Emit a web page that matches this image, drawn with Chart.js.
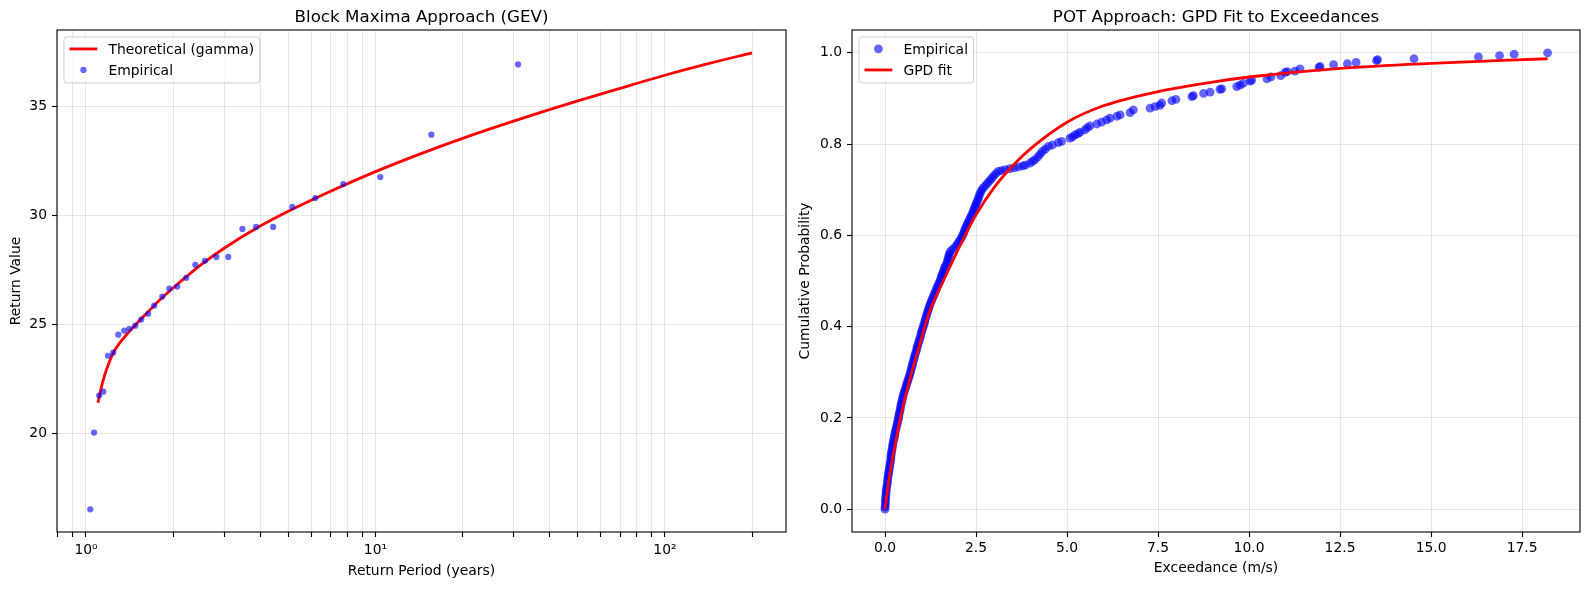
<!DOCTYPE html>
<html>
<head>
<meta charset="utf-8">
<script src="https://cdn.jsdelivr.net/npm/chart.js@4.4.1/dist/chart.umd.min.js"></script>
<style>
  html, body { margin: 0; padding: 0; background: #fff; }
  #wrap { position: relative; width: 1589px; height: 590px; }
  canvas { position: absolute; top: 0; }
</style>
</head>
<body>
<div id="wrap">
  <canvas id="left" width="795" height="590" style="left:0"></canvas>
  <canvas id="right" width="794" height="590" style="left:795px"></canvas>
</div>
<script>
/* global Chart */

// left panel: block maxima, return period (years) vs return value
var empPeriod = [1.035, 1.066, 1.11, 1.148, 1.191, 1.242, 1.293, 1.356, 1.411, 1.48,
  1.552, 1.64, 1.72, 1.835, 1.94, 2.066, 2.22, 2.386, 2.577, 2.82,
  3.10, 3.47, 3.87, 4.43, 5.16, 6.2, 7.74, 10.39, 15.6, 31.1]
var empValue = [16.5, 20.03, 21.73, 21.91, 23.56, 23.70, 24.53, 24.71, 24.80, 24.94,
  25.22, 25.49, 25.86, 26.28, 26.64, 26.74, 27.14, 27.74, 27.92, 28.1,
  28.1, 29.39, 29.48, 29.48, 30.4, 30.81, 31.45, 31.77, 33.72, 36.95]
var theoPeriod = [1.1, 1.12, 1.16, 1.2, 1.25, 1.3, 1.4, 1.5, 1.65, 1.8, 2.1, 2.5, 3, 4, 5,
  7, 10, 14, 20, 30, 50, 70, 100, 140, 200]
var theoValue = [21.4, 21.9, 22.67, 23.23, 23.76, 24.1, 24.62, 25.05, 25.62, 26.13, 26.92, 27.75, 28.5, 29.52, 30.2,
  31.12, 32.02, 32.79, 33.55, 34.34, 35.27, 35.85, 36.45, 36.97, 37.48]
var leftXTicks = [0.8, 0.9, 1, 2, 3, 4, 5, 6, 7, 8, 9, 10, 20, 30, 40, 50, 60, 70, 80, 90, 100, 200]
var leftXLabels = { 1: '10⁰', 10: '10¹', 100: '10²' }
var leftYTicks = [20, 25, 30, 35]

// right panel: exceedances vs cumulative probability
var excEmp = [0.00, 0.00, 0.01, 0.01, 0.01, 0.02, 0.02, 0.03, 0.03, 0.04,
  0.05, 0.06, 0.07, 0.07, 0.08, 0.09, 0.10, 0.11, 0.12, 0.13,
  0.14, 0.15, 0.16, 0.16, 0.17, 0.18, 0.19, 0.20, 0.21, 0.22,
  0.23, 0.25, 0.26, 0.27, 0.28, 0.30, 0.31, 0.33, 0.34, 0.36,
  0.37, 0.38, 0.39, 0.41, 0.42, 0.43, 0.44, 0.46, 0.47, 0.49,
  0.50, 0.52, 0.54, 0.56, 0.58, 0.60, 0.62, 0.64, 0.66, 0.68,
  0.70, 0.71, 0.73, 0.75, 0.76, 0.78, 0.80, 0.81, 0.83, 0.85,
  0.87, 0.88, 0.90, 0.92, 0.94, 0.96, 0.98, 0.99, 1.01, 1.03,
  1.05, 1.07, 1.09, 1.10, 1.12, 1.14, 1.16, 1.18, 1.20, 1.22,
  1.24, 1.27, 1.29, 1.32, 1.35, 1.37, 1.40, 1.42, 1.45, 1.48,
  1.51, 1.53, 1.55, 1.57, 1.60, 1.62, 1.64, 1.67, 1.70, 1.72,
  1.74, 1.75, 1.77, 1.80, 1.86, 1.93, 1.98, 2.02, 2.06, 2.10,
  2.13, 2.16, 2.18, 2.20, 2.23, 2.26, 2.29, 2.32, 2.35, 2.38,
  2.41, 2.43, 2.46, 2.48, 2.51, 2.53, 2.56, 2.58, 2.60, 2.63,
  2.66, 2.71, 2.77, 2.82, 2.88, 2.93, 2.98, 3.04, 3.11, 3.20,
  3.30, 3.43, 3.55, 3.66, 3.78, 3.85, 3.98, 4.05, 4.12, 4.20,
  4.26, 4.32, 4.40, 4.49, 4.60, 4.76, 4.85, 5.08, 5.15, 5.22,
  5.30, 5.36, 5.49, 5.56, 5.63, 5.82, 5.95, 6.09, 6.18, 6.37,
  6.46, 6.73, 6.82, 7.28, 7.42, 7.55, 7.60, 7.88, 7.99, 8.43,
  8.47, 8.75, 8.93, 9.20, 9.25, 9.66, 9.75, 9.84, 10.03, 10.07,
  10.49, 10.60, 10.87, 10.99, 11.05, 11.26, 11.40, 11.92, 11.95, 12.32,
  12.70, 12.94, 13.50, 13.53, 14.53, 16.30, 16.88, 17.28, 18.20]
var probEmp = [0.000, 0.005, 0.010, 0.015, 0.020, 0.025, 0.030, 0.035, 0.040, 0.045,
  0.050, 0.055, 0.060, 0.065, 0.070, 0.075, 0.080, 0.085, 0.090, 0.095,
  0.100, 0.105, 0.110, 0.115, 0.120, 0.125, 0.130, 0.135, 0.140, 0.145,
  0.150, 0.155, 0.160, 0.165, 0.170, 0.175, 0.180, 0.185, 0.190, 0.195,
  0.200, 0.205, 0.210, 0.215, 0.220, 0.225, 0.230, 0.235, 0.240, 0.245,
  0.250, 0.255, 0.260, 0.265, 0.270, 0.275, 0.280, 0.285, 0.290, 0.295,
  0.300, 0.305, 0.310, 0.315, 0.320, 0.325, 0.330, 0.335, 0.340, 0.345,
  0.350, 0.355, 0.360, 0.365, 0.370, 0.375, 0.380, 0.385, 0.390, 0.395,
  0.400, 0.405, 0.410, 0.415, 0.420, 0.425, 0.430, 0.435, 0.440, 0.445,
  0.450, 0.455, 0.460, 0.465, 0.470, 0.475, 0.480, 0.485, 0.490, 0.495,
  0.500, 0.505, 0.510, 0.515, 0.520, 0.525, 0.530, 0.535, 0.540, 0.545,
  0.550, 0.555, 0.560, 0.565, 0.570, 0.575, 0.580, 0.585, 0.590, 0.595,
  0.600, 0.605, 0.610, 0.615, 0.620, 0.625, 0.630, 0.635, 0.640, 0.645,
  0.650, 0.655, 0.660, 0.665, 0.670, 0.675, 0.680, 0.685, 0.690, 0.695,
  0.700, 0.705, 0.710, 0.715, 0.720, 0.725, 0.730, 0.735, 0.740, 0.742,
  0.744, 0.746, 0.748, 0.750, 0.752, 0.754, 0.758, 0.762, 0.766, 0.772,
  0.778, 0.784, 0.789, 0.795, 0.798, 0.803, 0.806, 0.813, 0.816, 0.820,
  0.823, 0.826, 0.831, 0.836, 0.840, 0.844, 0.848, 0.853, 0.857, 0.861,
  0.864, 0.869, 0.875, 0.879, 0.882, 0.885, 0.890, 0.895, 0.898, 0.904,
  0.906, 0.911, 0.914, 0.920, 0.921, 0.926, 0.929, 0.933, 0.938, 0.940,
  0.943, 0.947, 0.950, 0.957, 0.959, 0.960, 0.965, 0.968, 0.970, 0.974,
  0.976, 0.979, 0.983, 0.985, 0.987, 0.991, 0.994, 0.997, 1.000]
var excFit = [0, 0.1, 0.25, 0.45, 0.7, 0.95, 1.2, 1.6, 2.2, 2.5, 3.0, 3.5, 4.0, 5.0, 6.0,
  7.5, 9.0, 10.0, 12.5, 15.0, 18.2]
var probFit = [0, 0.06, 0.13, 0.21, 0.29, 0.36, 0.428, 0.5, 0.6, 0.645, 0.705, 0.752, 0.79, 0.848, 0.884,
  0.915, 0.936, 0.947, 0.966, 0.977, 0.987]
var rightXTicks = [0, 2.5, 5, 7.5, 10, 12.5, 15, 17.5]
var rightYTicks = [0, 0.2, 0.4, 0.6, 0.8, 1.0]

var FONT = 'DejaVu Sans'
var GRID = 'rgba(176,176,176,0.3)'
var BLUE = 'rgba(0,0,255,0.6)'
var RED = '#ff0000'

Chart.defaults.font.family = FONT
Chart.defaults.font.size = 13.9
Chart.defaults.color = '#000'
Chart.defaults.animation = false

function pts (xs, ys) {
  return xs.map((x, i) => ({ x: x, y: ys[i] }))
}

function setTicks (list) {
  return (scale) => { scale.ticks = list.map(v => ({ value: v })) }
}

// axes frame, title above the plot area, legend inside the top left corner
var panelDecor = {
  id: 'panelDecor',
  afterDatasetsDraw (chart, args, opts) {
    var ctx = chart.ctx
    var a = chart.chartArea
    ctx.save()
    ctx.strokeStyle = '#000'
    ctx.lineWidth = 1.1
    ctx.strokeRect(a.left, a.top, a.right - a.left, a.bottom - a.top)

    ctx.font = '16.7px ' + FONT
    ctx.fillStyle = '#000'
    ctx.textAlign = 'center'
    ctx.textBaseline = 'alphabetic'
    ctx.fillText(opts.title, (a.left + a.right) / 2, 22)

    var fs = 13.9
    ctx.font = fs + 'px ' + FONT
    var textW = Math.max.apply(null, opts.items.map(it => ctx.measureText(it.label).width))
    var pad = 0.4 * fs
    var handle = 2 * fs
    var gap = 0.8 * fs
    var bx = a.left + 0.5 * fs
    var by = a.top + 0.5 * fs
    var bw = pad * 2 + handle + gap + textW
    var bh = 46
    ctx.beginPath()
    ctx.roundRect(bx, by, bw, bh, 3)
    ctx.fillStyle = 'rgba(255,255,255,0.8)'
    ctx.fill()
    ctx.strokeStyle = '#cccccc'
    ctx.lineWidth = 1
    ctx.stroke()
    opts.items.forEach((it, i) => {
      var cy = by + 12 + i * 21
      var hx = bx + pad
      if (it.kind === 'line') {
        ctx.beginPath()
        ctx.moveTo(hx, cy)
        ctx.lineTo(hx + handle, cy)
        ctx.strokeStyle = RED
        ctx.lineWidth = 2.8
        ctx.stroke()
      } else {
        ctx.beginPath()
        ctx.arc(hx + handle / 2, cy, it.r, 0, Math.PI * 2)
        ctx.fillStyle = BLUE
        ctx.fill()
      }
      ctx.fillStyle = '#000'
      ctx.textAlign = 'left'
      ctx.textBaseline = 'middle'
      ctx.fillText(it.label, hx + handle + gap, cy + 1)
    })
    ctx.restore()
  }
}

function axisCommon (extra) {
  var base = {
    bounds: 'data',
    grid: { color: GRID, lineWidth: 1, tickColor: '#000', tickLength: 5, tickWidth: 1.1 },
    border: { display: false },
    ticks: { autoSkip: false, maxRotation: 0, padding: 5, font: { size: 13.9 } }
  }
  return Object.assign(base, extra)
}

new Chart(document.getElementById('left'), {
  type: 'scatter',
  data: {
    datasets: [{
      type: 'line',
      label: 'Theoretical (gamma)',
      data: pts(theoPeriod, theoValue),
      borderColor: RED,
      borderWidth: 2.8,
      pointRadius: 0,
      fill: false,
      cubicInterpolationMode: 'monotone',
      order: 1
    }, {
      label: 'Empirical',
      data: pts(empPeriod, empValue),
      backgroundColor: BLUE,
      borderWidth: 0,
      pointRadius: 3.1,
      order: 0
    }]
  },
  options: {
    responsive: false,
    animation: false,
    events: [],
    layout: { padding: { left: 0, right: 9, top: 30, bottom: 0 } },
    plugins: {
      legend: { display: false },
      tooltip: { enabled: false },
      panelDecor: {
        title: 'Block Maxima Approach (GEV)',
        items: [{ kind: 'line', label: 'Theoretical (gamma)' }, { kind: 'dot', label: 'Empirical', r: 3.1 }]
      }
    },
    scales: {
      x: axisCommon({
        type: 'logarithmic',
        min: 0.794,
        max: 262,
        afterBuildTicks: setTicks(leftXTicks),
        afterFit: (s) => { s.height = 58 },
        ticks: { autoSkip: false, maxRotation: 0, padding: 5, callback: (v) => leftXLabels[v] || '' },
        title: { display: true, text: 'Return Period (years)', padding: { top: 0, bottom: 10 } }
      }),
      y: axisCommon({
        type: 'linear',
        min: 15.46,
        max: 38.53,
        afterBuildTicks: setTicks(leftYTicks),
        afterFit: (s) => { s.width = 57 },
        title: { display: true, text: 'Return Value', padding: { top: 8, bottom: 0 } }
      })
    }
  },
  plugins: [panelDecor]
})

new Chart(document.getElementById('right'), {
  type: 'scatter',
  data: {
    datasets: [{
      label: 'Empirical',
      data: pts(excEmp, probEmp),
      backgroundColor: BLUE,
      borderWidth: 0,
      pointRadius: 4.4,
      order: 1
    }, {
      type: 'line',
      label: 'GPD fit',
      data: pts(excFit, probFit),
      borderColor: RED,
      borderWidth: 2.8,
      pointRadius: 0,
      fill: false,
      cubicInterpolationMode: 'monotone',
      order: 0
    }]
  },
  options: {
    responsive: false,
    animation: false,
    events: [],
    layout: { padding: { left: 0, right: 9, top: 30, bottom: 0 } },
    plugins: {
      legend: { display: false },
      tooltip: { enabled: false },
      panelDecor: {
        title: 'POT Approach: GPD Fit to Exceedances',
        items: [{ kind: 'dot', label: 'Empirical', r: 4.4 }, { kind: 'line', label: 'GPD fit' }]
      }
    },
    scales: {
      x: axisCommon({
        type: 'linear',
        min: -0.907,
        max: 19.09,
        afterBuildTicks: setTicks(rightXTicks),
        afterFit: (s) => { s.height = 58 },
        ticks: { autoSkip: false, maxRotation: 0, padding: 3, callback: (v) => v.toFixed(1) },
        title: { display: true, text: 'Exceedance (m/s)', padding: { top: 0, bottom: 13 } }
      }),
      y: axisCommon({
        type: 'linear',
        min: -0.05,
        max: 1.05,
        afterBuildTicks: setTicks(rightYTicks),
        afterFit: (s) => { s.width = 57 },
        ticks: { autoSkip: false, maxRotation: 0, padding: 5, callback: (v) => v.toFixed(1) },
        title: { display: true, text: 'Cumulative Probability', padding: { top: 2.4, bottom: 0 } }
      })
    }
  },
  plugins: [panelDecor]
})
</script>
</body>
</html>
